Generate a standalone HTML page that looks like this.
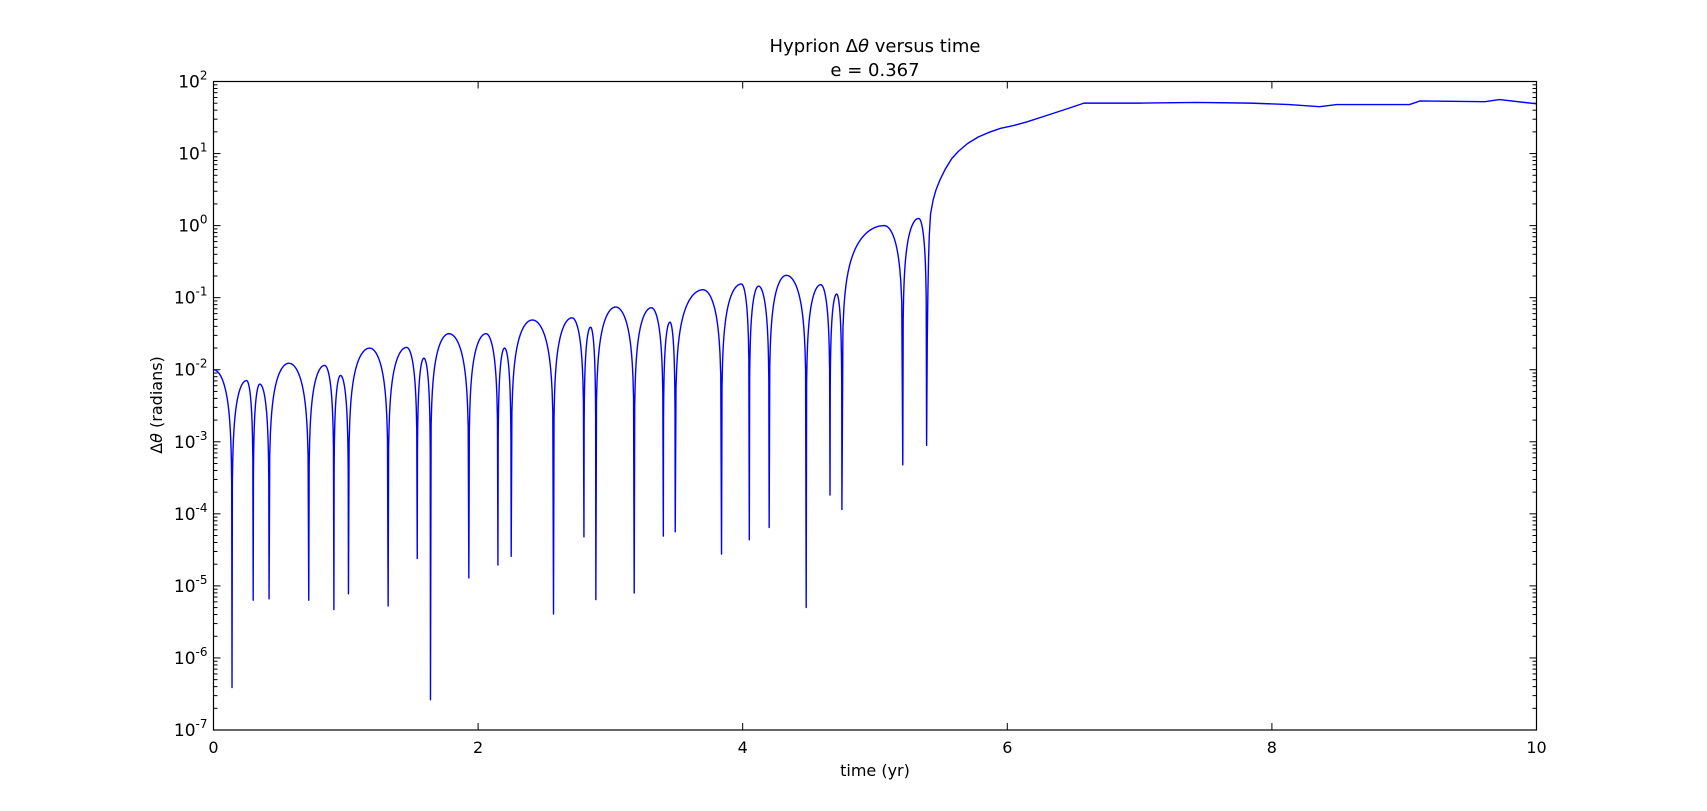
<!DOCTYPE html>
<html><head><meta charset="utf-8"><style>
html,body{margin:0;padding:0;background:#fff;}
svg{display:block;font-family:"DejaVu Sans","Liberation Sans",sans-serif;}
</style></head><body>
<svg id="chart" width="1707" height="811" viewBox="0 0 1707 811" xmlns="http://www.w3.org/2000/svg">
<rect x="0" y="0" width="1707" height="811" fill="#fff"/>
<text x="875" y="52" text-anchor="middle" font-size="18">Hyprion  Δ<tspan font-style="italic">θ</tspan> versus time</text>
<text x="875" y="76" text-anchor="middle" font-size="18">e = 0.367</text>
<text x="875" y="776" text-anchor="middle" font-size="16">time (yr)</text>
<text transform="translate(162,405) rotate(-90)" text-anchor="middle" font-size="16">Δ<tspan font-style="italic">θ</tspan> (radians)</text>
<g id="ticks"></g>
<g id="series" clip-path="url(#clip)"></g>
<defs><clipPath id="clip"><rect x="213" y="81" width="1324" height="649"/></clipPath></defs>
<rect x="213.5" y="81.5" width="1323" height="648.5" fill="none" stroke="#000" stroke-width="1.2"/>
</svg>
<script>
const xTicks=[0,2,4,6,8,10];
const yDecades=[-7,-6,-5,-4,-3,-2,-1,0,1,2];
// dips (time, log10 value)
const dipT=[0.14,0.30,0.42,0.72,0.91,1.02,1.32,1.54,1.64,1.93,2.15,2.25,2.57,2.80,2.89,3.18,3.40,3.49,3.84,4.05,4.20,4.48,4.66,4.75,5.21,5.39];
const dipV=[-6.41,-5.2,-5.18,-5.2,-5.33,-5.11,-5.28,-4.62,-6.58,-4.89,-4.71,-4.59,-5.39,-4.32,-5.19,-5.1,-4.31,-4.25,-4.56,-4.36,-4.19,-5.30,-3.74,-3.94,-3.32,-3.05];
// peaks between dips (first peak is at t=0)
const peakT=[0.0,0.25,0.35,0.57,0.84,0.96,1.18,1.46,1.59,1.78,2.06,2.20,2.41,2.71,2.85,3.04,3.31,3.45,3.70,3.99,4.12,4.33,4.59,4.71,5.07,5.33];
const peakV=[-2.0,-2.15,-2.2,-1.91,-1.94,-2.08,-1.70,-1.69,-1.84,-1.50,-1.50,-1.70,-1.31,-1.28,-1.41,-1.13,-1.14,-1.34,-0.89,-0.81,-0.84,-0.69,-0.82,-0.95,0.0,0.10];
// growth / saturation after last dip
const tailT=[5.395,5.40,5.405,5.41,5.42,5.44,5.46,5.49,5.53,5.58,5.63,5.70,5.78,5.87,5.95,6.05,6.15,6.30,6.45,6.58,7.0,7.43,7.84,8.13,8.36,8.49,9.04,9.12,9.61,9.72,10.0];
const tailV=[-1.6,-0.9,-0.45,-0.15,0.165,0.36,0.49,0.63,0.78,0.93,1.03,1.14,1.23,1.30,1.35,1.39,1.44,1.53,1.62,1.70,1.70,1.71,1.70,1.68,1.65,1.68,1.68,1.73,1.72,1.75,1.69];

const L=213.5,R=1536.5,T=81.5,B=730;
const X=t=>L+(t-0)/(10-0)*(R-L);
const Y=lv=>B-(lv-(-7))/(2-(-7))*(B-T);
const NS="http://www.w3.org/2000/svg";
const tg=document.getElementById('ticks');
function line(x1,y1,x2,y2,name){const l=document.createElementNS(NS,'line');l.setAttribute('x1',x1);l.setAttribute('y1',y1);l.setAttribute('x2',x2);l.setAttribute('y2',y2);l.setAttribute('stroke','#000');l.setAttribute('stroke-width','1');


tg.appendChild(l);}
xTicks.forEach(t=>{const x=X(t);line(x,B,x,B-7,'x-tick');line(x,T,x,T+7,'x-tick-top');
const tx=document.createElementNS(NS,'text');tx.setAttribute('x',x);tx.setAttribute('y',B+23);tx.setAttribute('text-anchor','middle');tx.setAttribute('font-size','16');tx.textContent=t;


tg.appendChild(tx);});
yDecades.forEach(d=>{const y=Y(d);line(L,y,L+7,y,'y-tick');line(R,y,R-7,y,'y-tick-right');
if(d<2){for(let k=2;k<=9;k++){const yy=Y(d+Math.log10(k));line(L,yy,L+4,yy,'y-minor-tick');line(R,yy,R-4,yy,'y-minor-tick-right');}}
const tx=document.createElementNS(NS,'text');tx.setAttribute('x',L-6);tx.setAttribute('y',y+6);tx.setAttribute('text-anchor','end');tx.setAttribute('font-size','17');
tx.innerHTML='10<tspan dy="-8" font-size="12">'+d+'</tspan>';


tg.appendChild(tx);});

// build curve
const pts=[];
function arch(t1,v1,tp,vp,t2,v2,startAtPeak){
  const N=60;
  if(!startAtPeak){pts.push([t1,v1]);}
  for(let i=1;i<N;i++){const t=(startAtPeak?tp:t1)+((t2-(startAtPeak?tp:t1))*i/N);
    let u;if(t<tp)u=0.5*(t-t1)/(tp-t1);else u=0.5+0.5*(t-tp)/(t2-tp);
    let lv=vp+Math.log10(Math.max(Math.sin(Math.PI*u),1e-9));
    if(t<tp)lv=Math.max(lv,v1);else lv=Math.max(lv,v2);
    pts.push([t,lv]);}
}
pts.push([0,peakV[0]]);
arch(-dipT[0],dipV[0],0,peakV[0],dipT[0],dipV[0],true);
for(let i=0;i<dipT.length-1;i++){arch(dipT[i],dipV[i],peakT[i+1],peakV[i+1],dipT[i+1],dipV[i+1],false);}
pts.push([dipT[dipT.length-1],dipV[dipV.length-1]]);
tailT.forEach((t,i)=>pts.push([t,tailV[i]]));
const pl=document.createElementNS(NS,'polyline');
pl.setAttribute('points',pts.map(p=>X(p[0]).toFixed(2)+','+Y(p[1]).toFixed(2)).join(' '));
pl.setAttribute('fill','none');pl.setAttribute('stroke','#0000ff');pl.setAttribute('stroke-width','1.4');pl.setAttribute('stroke-linejoin','round');


document.getElementById('series').appendChild(pl);
</script>
</body></html>
